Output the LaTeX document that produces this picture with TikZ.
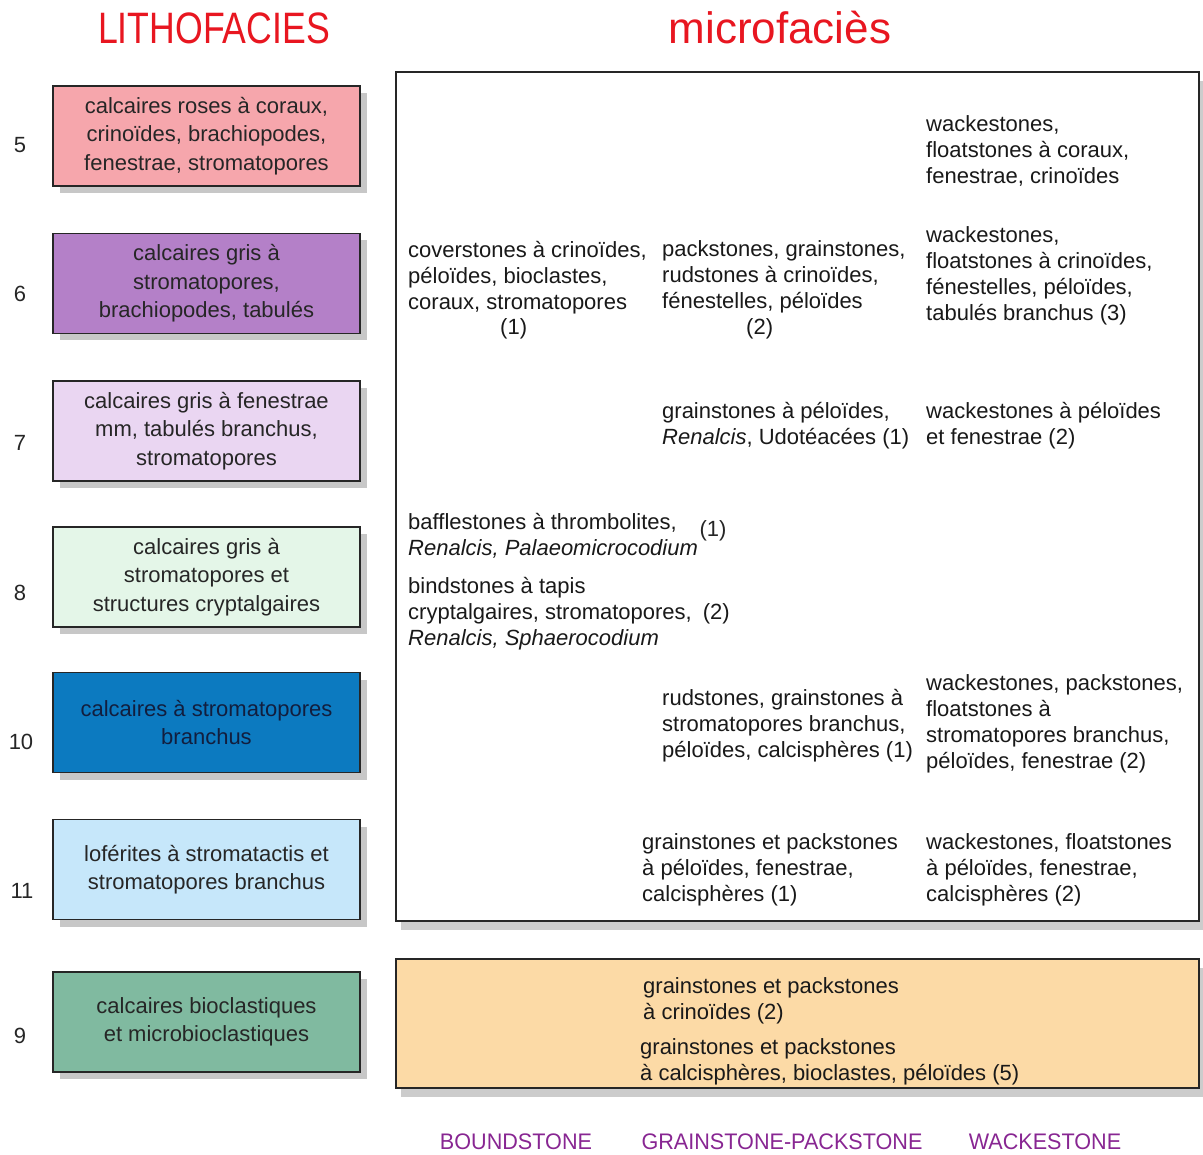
\documentclass[tikz,border=0pt]{standalone}
\usepackage{fontspec}
\setmainfont{Liberation Sans}
\usetikzlibrary{shadows}

\definecolor{titlered}{RGB}{232,22,32}
\definecolor{texpurple}{RGB}{136,38,146}
\definecolor{rosefill}{RGB}{246,166,172}
\definecolor{violetfill}{RGB}{180,128,200}
\definecolor{lavenderfill}{RGB}{234,214,242}
\definecolor{mintfill}{RGB}{228,246,232}
\definecolor{bluefill}{RGB}{12,122,192}
\definecolor{skyfill}{RGB}{198,231,250}
\definecolor{tealfill}{RGB}{128,186,160}
\definecolor{orangefill}{RGB}{252,218,166}
\definecolor{navytext}{RGB}{18,30,62}

\begin{document}
\begin{tikzpicture}[x=1pt,y=-1pt,
	litho/.style={draw=black!85, line width=1.2pt, minimum width=307pt, minimum height=100pt,
		align=center, text=black!85, font=\fontsize{22}{28.5}\selectfont,
		drop shadow={shadow xshift=7pt, shadow yshift=-7pt, fill=black!22, opacity=1}},
	panel/.style={draw=black!85, line width=1.2pt, minimum width=803pt, inner sep=0pt,
		drop shadow={shadow xshift=5pt, shadow yshift=-9pt, fill=black!20, opacity=1}},
	num/.style={font=\fontsize{22}{26}\selectfont, text=black!85},
	micro/.style={anchor=north west, inner sep=0pt, align=left, text=black!90,
		font=\fontsize{22}{26}\selectfont, execute at begin node={\rule{0pt}{18pt}}},
	title/.style={text=titlered, font=\fontsize{44}{48}\selectfont},
	texture/.style={text=texpurple, inner sep=0pt, font=\fontsize{22.5}{26}\selectfont, xscale=0.96}]
	\useasboundingbox (0,0) rectangle (1203,1155);

	% titles
	\node[title, xscale=0.81] (lithotitle) at (214,28) {LITHOFACIES};
	\node[title] (microtitle) at (780,28) {microfaciès};

	% lithofacies boxes
	\node[litho, fill=rosefill] (b5) at (206.5,136) {calcaires roses à coraux,\\crinoïdes, brachiopodes,\\fenestrae, stromatopores};
	\node[litho, fill=violetfill] (b6) at (206.5,283.5) {calcaires gris à\\stromatopores,\\brachiopodes, tabulés};
	\node[litho, fill=lavenderfill] (b7) at (206.5,431) {calcaires gris à fenestrae\\mm, tabulés branchus,\\stromatopores};
	\node[litho, fill=mintfill] (b8) at (206.5,577) {calcaires gris à\\stromatopores et\\structures cryptalgaires};
	\node[litho, fill=bluefill, text=navytext] (b10) at (206.5,722.5) {calcaires à stromatopores\\branchus};
	\node[litho, fill=skyfill] (b11) at (206.5,869.5) {loférites à stromatactis et\\stromatopores branchus};
	\node[litho, fill=tealfill] (b9) at (206.5,1022) {calcaires bioclastiques\\et microbioclastiques};

	% facies numbers
	\node[num] (n5) at (20,145) {5};
	\node[num] (n6) at (20,294) {6};
	\node[num] (n7) at (20,443) {7};
	\node[num] (n8) at (20,593) {8};
	\node[num] (n10) at (21,742) {10};
	\node[num] (n11) at (22,891) {11};
	\node[num] (n9) at (20,1036) {9};

	% microfacies panels
	\node[panel, fill=white, minimum height=849pt] (mfbox) at (797.5,496.5) {};
	\node[panel, fill=orangefill, minimum height=129pt] (mfbio) at (797.5,1023.5) {};

	% facies 5
	\node[micro] (w5) at (926,115) {wackestones,\\floatstones à coraux,\\fenestrae, crinoïdes};
	% facies 6
	\node[micro] (bd6) at (408,241) {coverstones à crinoïdes,\\péloïdes, bioclastes,\\coraux, stromatopores\\[-1pt]\hspace*{92pt}(1)};
	\node[micro] (gp6) at (662,240) {packstones, grainstones,\\rudstones à crinoïdes,\\fénestelles, péloïdes\\[0pt]\hspace*{84pt}(2)};
	\node[micro] (w6) at (926,226) {wackestones,\\floatstones à crinoïdes,\\fénestelles, péloïdes,\\tabulés branchus (3)};
	% facies 7
	\node[micro] (gp7) at (662,402) {grainstones à péloïdes,\\\textit{Renalcis}, Udotéacées (1)};
	\node[micro] (w7) at (926,402) {wackestones à péloïdes\\et fenestrae (2)};
	% facies 8
	\node[micro] (bd8a) at (408,513) {bafflestones à thrombolites,\\\textit{Renalcis, Palaeomicrocodium}};
	\node[num] (bd8anum) at (713,531) {(1)};
	\node[micro] (bd8b) at (408,577) {bindstones à tapis\\cryptalgaires, stromatopores,\hspace{0.5em}(2)\\\textit{Renalcis, Sphaerocodium}};
	% facies 10
	\node[micro] (gp10) at (662,689) {rudstones, grainstones à\\stromatopores branchus,\\péloïdes, calcisphères (1)};
	\node[micro] (w10) at (926,674) {wackestones, packstones,\\floatstones à\\stromatopores branchus,\\péloïdes, fenestrae (2)};
	% facies 11
	\node[micro] (gp11) at (642,833) {grainstones et packstones\\à péloïdes, fenestrae,\\calcisphères (1)};
	\node[micro] (w11) at (926,833) {wackestones, floatstones\\à péloïdes, fenestrae,\\calcisphères (2)};
	% facies 9
	\node[micro] (gp9a) at (643,977) {grainstones et packstones\\à crinoïdes (2)};
	\node[micro] (gp9b) at (640,1038) {grainstones et packstones\\à calcisphères, bioclastes, péloïdes (5)};

	% textures
	\node[texture] (tbound) at (516,1142) {BOUNDSTONE};
	\node[texture] (tgrain) at (782,1142) {GRAINSTONE-PACKSTONE};
	\node[texture] (twacke) at (1045,1142) {WACKESTONE};
\end{tikzpicture}
\end{document}
